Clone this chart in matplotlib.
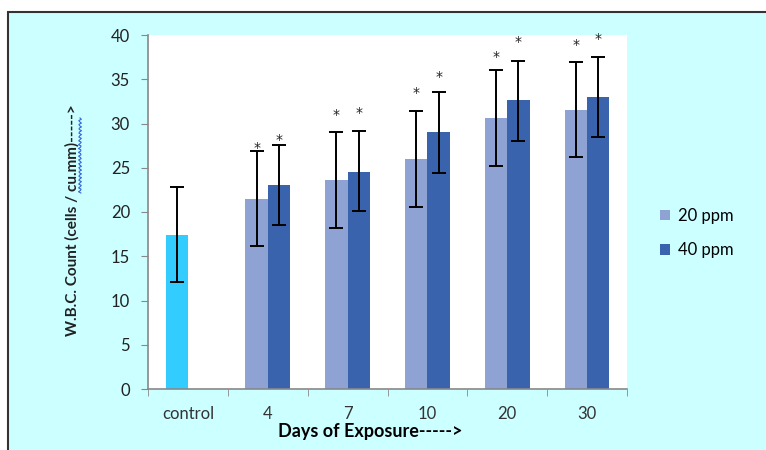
import matplotlib.pyplot as plt
import numpy as np
from matplotlib.patches import Rectangle
from matplotlib.lines import Line2D

plt.rcParams['font.family'] = ['Lato', 'DejaVu Sans']

categories = ["control", "4", "7", "10", "20", "30"]
control_mean = 17.4
control_lo, control_hi = 12.1, 22.8

ppm20 = [21.5, 23.6, 26.0, 30.6, 31.5]
ppm20_lo = [16.2, 18.2, 20.6, 25.2, 26.2]
ppm20_hi = [26.9, 29.0, 31.4, 36.0, 36.9]
ppm20_star = [27.2, 31.0, 33.4, 37.5, 38.9]

ppm40 = [23.1, 24.5, 29.0, 32.6, 33.0]
ppm40_lo = [18.5, 20.1, 24.4, 28.0, 28.5]
ppm40_hi = [27.6, 29.2, 33.6, 37.1, 37.5]
ppm40_star = [28.1, 31.2, 35.3, 39.2, 39.5]

c_control = "#33CCFF"
c_20 = "#8FA2D4"
c_40 = "#3A63AD"
bg = "#CCFFFF"

fig = plt.figure(figsize=(7.66, 4.5), dpi=100)
fig.patch.set_facecolor("white")
fig.patches.append(Rectangle((8 / 766, -0.05), 1.0, 1 - 12 / 450 + 0.05,
                             transform=fig.transFigure, facecolor=bg,
                             edgecolor="#333333", linewidth=1.5, zorder=-10))

ax = fig.add_axes([148 / 766, 1 - 389 / 450, 479 / 766, 354 / 450])
ax.set_facecolor("white")

w = 0.28
x = np.arange(len(categories))
xs = x[1:]

ebkw = dict(fmt="none", ecolor="black", elinewidth=1.4, capsize=5, capthick=1.4)

ax.bar(x[0] - w / 2, control_mean, w, color=c_control)
ax.errorbar(x[0] - w / 2, control_mean,
            yerr=[[control_mean - control_lo], [control_hi - control_mean]], **ebkw)

m20 = np.array(ppm20)
m40 = np.array(ppm40)
b20 = ax.bar(xs - w / 2, m20, w, color=c_20, label="20 ppm")
b40 = ax.bar(xs + w / 2, m40, w, color=c_40, label="40 ppm")
ax.errorbar(xs - w / 2, m20, yerr=[m20 - np.array(ppm20_lo), np.array(ppm20_hi) - m20], **ebkw)
ax.errorbar(xs + w / 2, m40, yerr=[m40 - np.array(ppm40_lo), np.array(ppm40_hi) - m40], **ebkw)

for xi, yi in zip(xs - w / 2, ppm20_star):
    ax.text(xi, yi, "*", ha="center", va="center", fontsize=10, color="#222222",
            family="DejaVu Sans")
for xi, yi in zip(xs + w / 2, ppm40_star):
    ax.text(xi, yi, "*", ha="center", va="center", fontsize=10, color="#222222",
            family="DejaVu Sans")

ax.set_xlim(-0.5, len(categories) - 0.5)
ax.set_ylim(0, 40)
ax.set_yticks(range(0, 41, 5))
ax.set_xticks(x)
ax.set_xticklabels(categories)
ax.set_xticks(np.arange(len(categories) + 1) - 0.5, minor=True)
ax.tick_params(axis="x", which="major", length=0, pad=12, labelsize=12, labelcolor="#333333")
ax.tick_params(axis="x", which="minor", length=5, color="#888888", direction="out")
ax.tick_params(axis="y", length=5, color="#888888", labelsize=12, labelcolor="#222222", pad=8)
for s in ("top", "right"):
    ax.spines[s].set_visible(False)
for s in ("left", "bottom"):
    ax.spines[s].set_color("#888888")
    ax.spines[s].set_linewidth(1.2)

ax.set_xlabel("Days of Exposure----->", fontsize=13, fontweight="bold", labelpad=0)
ax.xaxis.set_label_coords(0.463, -0.095)
fig.text(72 / 766, 1 - 220 / 450, "W.B.C. Count (cells / cu.mm)----->", rotation=90,
         ha="center", va="center", fontsize=11, fontweight="bold", color="#222222")

# spell-check squiggle under "cu.mm"
wy = np.linspace(118, 193, 60)
wx = 80 + 1.5 * np.sin((wy - 118) * 1.6)
fig.lines.append(Line2D(wx / 766, 1 - wy / 450, transform=fig.transFigure,
                        color="#3366DD", linewidth=0.8))

fig.legend(handles=[b20, b40], loc="upper left", bbox_to_anchor=(645 / 766, 1 - 193 / 450),
           frameon=False, handlelength=0.6, handleheight=0.6, handletextpad=0.5,
           labelspacing=1.1, fontsize=12)

fig.savefig("out.png", dpi=100)
